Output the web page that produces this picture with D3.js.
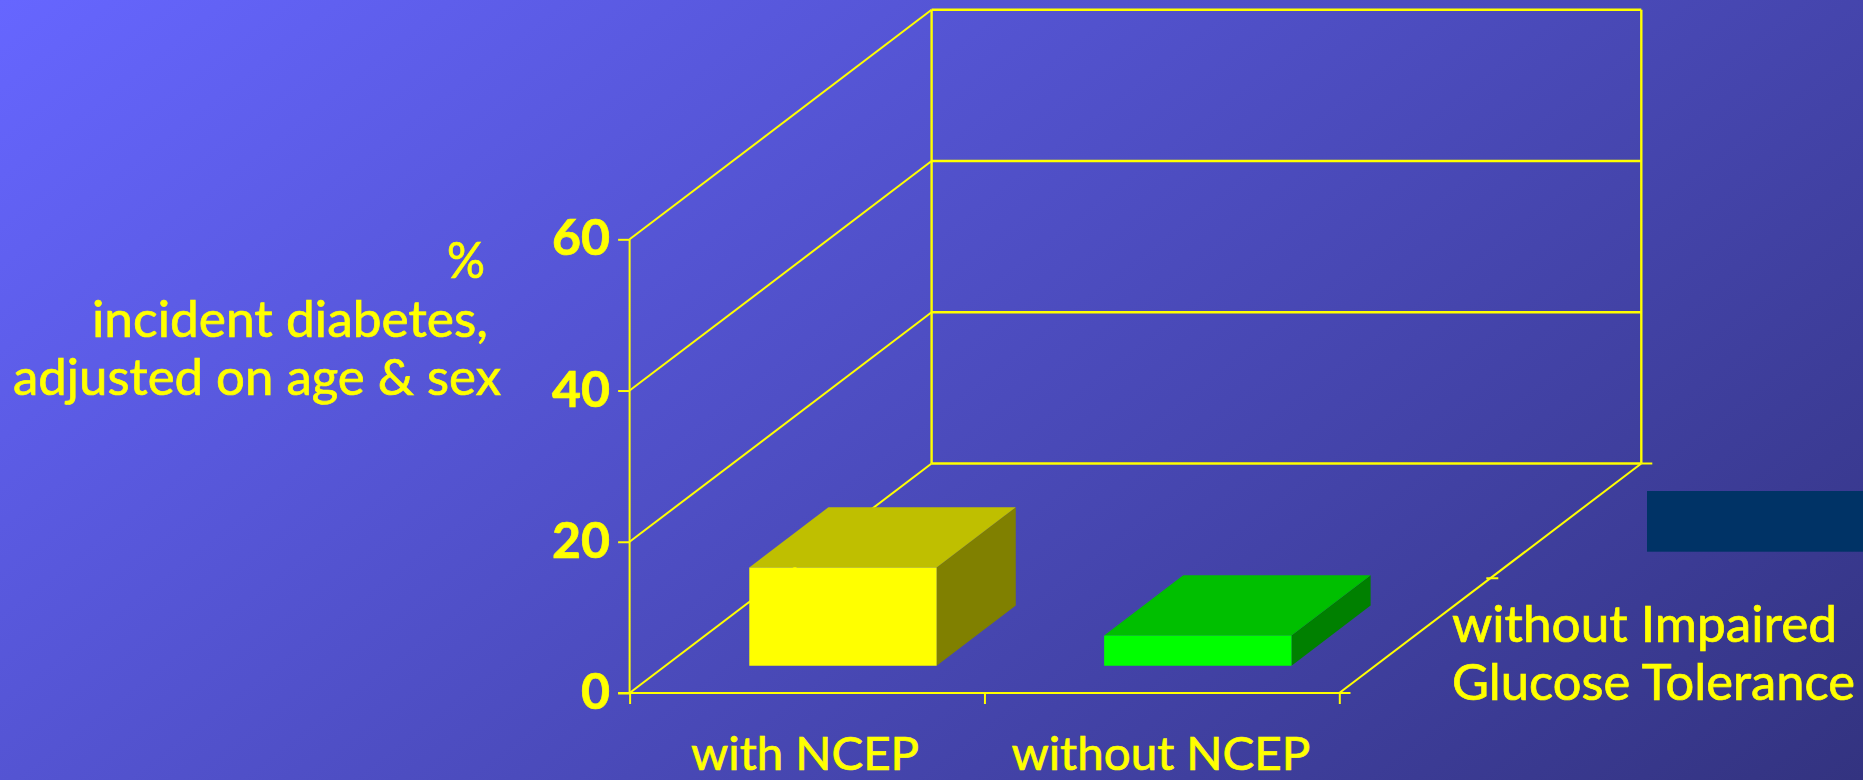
<!DOCTYPE html>
<html>
<head>
<meta charset="utf-8">
<script src="https://cdnjs.cloudflare.com/ajax/libs/d3/7.9.0/d3.min.js"></script>
<style>
  html, body { margin: 0; padding: 0; background: #4a4ab8; overflow: hidden; }
  svg { display: block; }
  .label { font-family: "Comic Sans MS", Lato, sans-serif; fill: #ffff00; stroke: #ffff00; stroke-width: 0.7px; }
  .grid { stroke: #ffff00; fill: none; }
</style>
</head>
<body>
<svg id="chart" width="1863" height="780"></svg>
<script>
// Chart values
const categories = ["with NCEP", "without NCEP"];
const incidence = [13, 4];
const yTicks = [0, 20, 40, 60];
const rowCount = 2;
const rowLabel = ["without Impaired", "Glucose Tolerance"];
const yTitle = ["%", "incident diabetes,", "adjusted on age & sex"];

// Colours of each box: front, top and side faces
const faces = [
  { front: "#ffff00", top: "#bfbf00", side: "#808000" },
  { front: "#00ff00", top: "#00bf00", side: "#008000" }
];

const svg = d3.select("#chart");
const W = 1863, H = 780;

// Background shades from the top-left corner, falling off faster across than down
const shadeX = 0.65 / W, shadeY = 0.35 / H;
const shadeNorm = shadeX * shadeX + shadeY * shadeY;
const defs = svg.append("defs");
const bg = defs.append("linearGradient").attr("id", "bg")
  .attr("gradientUnits", "userSpaceOnUse")
  .attr("x1", 0).attr("y1", 0)
  .attr("x2", shadeX / shadeNorm).attr("y2", shadeY / shadeNorm);
bg.append("stop").attr("offset", 0).attr("stop-color", "#6666ff");
bg.append("stop").attr("offset", 1).attr("stop-color", "#333380");
svg.append("rect").attr("width", W).attr("height", H).attr("fill", "url(#bg)");

// Oblique projection: the floor recedes up and to the right
const x = d3.scaleLinear().domain([0, categories.length]).range([629.6, 1339.3]);
const y = d3.scaleLinear().domain([0, 60]).range([693, 239.3]);
const depthX = d3.scaleLinear().domain([0, rowCount]).range([0, 302]);
const depthY = d3.scaleLinear().domain([0, rowCount]).range([0, -229.5]);
const project = (c, v, d) => [x(c) + depthX(d), y(v) + depthY(d)];
const line = d3.line();

const walls = svg.append("g").attr("class", "grid");
const seg = (a, b, w) => walls.append("path").attr("d", line([a, b])).attr("stroke-width", w);

const nCat = categories.length;
const maxTick = yTicks[yTicks.length - 1];

// Side wall and back wall gridlines
yTicks.forEach(v => {
  seg(project(0, v, 0), project(0, v, rowCount), 2);
  seg(project(0, v, rowCount), project(nCat, v, rowCount), 2.4);
});
seg(project(0, 0, 0), project(0, maxTick, 0), 2);
seg(project(0, 0, rowCount), project(0, maxTick, rowCount), 2.4);
seg(project(nCat, 0, rowCount), project(nCat, maxTick, rowCount), 2.4);

// Floor edges
seg(project(0, 0, 0), project(nCat, 0, 0), 2);
seg(project(nCat, 0, 0), project(nCat, 0, rowCount), 2);

// Value axis with its ticks and labels
const yAxis = d3.axisLeft(y).tickValues(yTicks).tickSize(11.5).tickPadding(8);
const yG = svg.append("g").attr("transform", `translate(${x(0)},0)`).call(yAxis);
yG.select(".domain").remove();
yG.selectAll("line").attr("stroke", "#ffff00").attr("stroke-width", 2);
yG.selectAll("text")
  .attr("class", "label")
  .attr("dy", "0.31em")
  .style("font-size", "50px")
  .style("font-weight", 700)
  .style("font-family", '"Comic Sans MS", Lato, sans-serif');

// Category axis ticks fall on the band boundaries
const xAxis = d3.axisBottom(x).tickValues(d3.range(nCat + 1)).tickSize(11).tickFormat("");
const xG = svg.append("g").attr("transform", `translate(0,${y(0)})`).call(xAxis);
xG.select(".domain").attr("stroke", "#ffff00").attr("stroke-width", 2)
  .attr("d", `M${x(0) - 11.5},0H${x(nCat) + 11}`);
xG.selectAll("line").attr("stroke", "#ffff00").attr("stroke-width", 2);

// Depth axis ticks
d3.range(rowCount + 1).forEach(d => {
  const p = project(nCat, 0, d);
  const q = d === 1 ? [p[0] - 4, p[1]] : p;
  svg.append("path").attr("class", "grid").attr("stroke-width", 2)
    .attr("d", line([q, [p[0] + (d === 1 ? 8 : 11), p[1]]]));
});

// Boxes: placed in the front row, centred in each category band
const gapW = (1 - 0.528) / 2;
const zNear = 0.238, zFar = 0.762;
const boxes = svg.append("g");
categories.forEach((c, i) => {
  const v = incidence[i], col = faces[i];
  const x0 = i + gapW, x1 = i + 1 - gapW;
  const p = project;
  const poly = (pts, fill) => boxes.append("path")
    .attr("d", line(pts) + "Z").attr("fill", fill);
  poly([p(x1, 0, zNear), p(x1, v, zNear), p(x1, v, zFar), p(x1, 0, zFar)], col.side);
  poly([p(x0, v, zNear), p(x1, v, zNear), p(x1, v, zFar), p(x0, v, zFar)], col.top);
  poly([p(x0, 0, zNear), p(x1, 0, zNear), p(x1, v, zNear), p(x0, v, zNear)], col.front);
});

// Dark panel at the right edge
svg.append("rect").attr("x", 1647).attr("y", 491)
  .attr("width", W - 1647).attr("height", 60.7).attr("fill", "#003366");

// Text labels, fitted to a fixed run length
const put = (str, cx, baseline, len, size) => svg.append("text")
  .attr("class", "label")
  .attr("x", cx).attr("y", baseline)
  .attr("text-anchor", "middle")
  .attr("textLength", len).attr("lengthAdjust", "spacingAndGlyphs")
  .style("font-size", size + "px")
  .text(str);

put(yTitle[0], 466, 278, 38, 50);
put(yTitle[1], 290, 336.7, 396, 50);
put(yTitle[2], 257, 395, 488, 50);

put(categories[0], x(0.5) - 2, 770, 228, 46);
put(categories[1], x(1.5) - 1, 770, 299, 46);

put(rowLabel[0], 1644.5, 641.7, 385, 50);
put(rowLabel[1], 1653.5, 700, 403, 50);
</script>
</body>
</html>
